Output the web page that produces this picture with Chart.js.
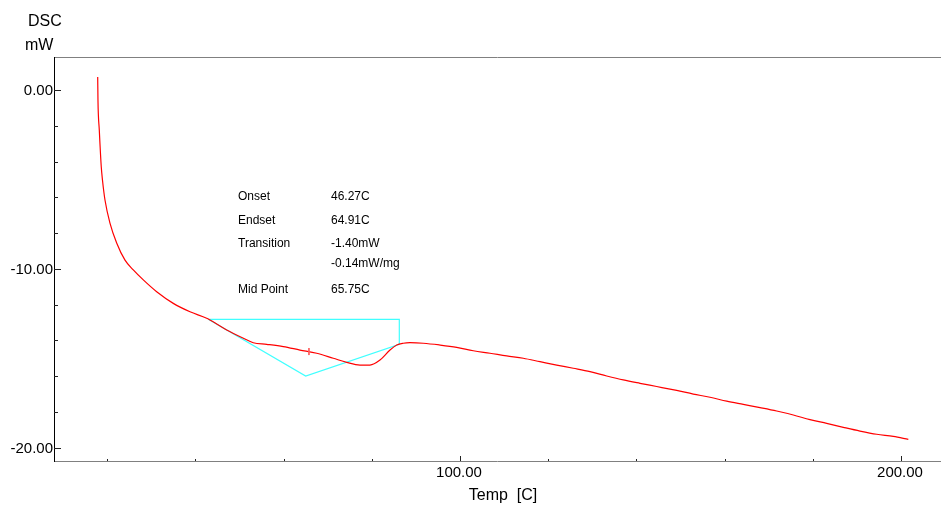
<!DOCTYPE html>
<html>
<head>
<meta charset="utf-8">
<script src="https://cdn.jsdelivr.net/npm/chart.js@4/dist/chart.umd.min.js"></script>
<style>
  html, body { margin: 0; padding: 0; background: #fff; }
  #wrap { width: 941px; height: 506px; }
</style>
</head>
<body>
<div id="wrap"><canvas id="dsc" width="941" height="506"></canvas></div>
<script>
// DSC curve
const tempC = [17.85, 17.91, 18.21, 18.66, 18.93, 19.50, 20.63, 22.15, 24.04, 25.92, 28.19, 31.22, 34.99, 38.78, 42.56, 43.31, 47.10, 50.86, 53.13, 56.17, 59.93, 63.72, 67.51, 71.27, 74.31, 77.32, 79.59, 81.86, 84.13, 85.65, 87.14, 88.66, 91.68, 95.46, 99.25, 103.02, 106.80, 110.59, 114.35, 118.14, 121.93, 125.69, 129.48, 133.27, 137.03, 140.82, 144.60, 149.14, 152.90, 156.69, 160.48, 164.24, 168.03, 171.81, 175.58, 179.37, 183.15, 186.92, 190.70, 194.49, 198.25, 201.66];
const dscMW = [0.73, -0.56, -2.24, -4.31, -5.03, -6.15, -7.44, -8.55, -9.51, -10.06, -10.62, -11.28, -11.93, -12.40, -12.76, -12.86, -13.42, -13.88, -14.13, -14.22, -14.35, -14.54, -14.72, -15.00, -15.23, -15.38, -15.38, -15.10, -14.54, -14.26, -14.16, -14.13, -14.16, -14.26, -14.39, -14.58, -14.72, -14.87, -15.00, -15.19, -15.38, -15.56, -15.75, -15.99, -16.21, -16.40, -16.58, -16.80, -17.00, -17.18, -17.40, -17.58, -17.76, -17.95, -18.17, -18.43, -18.64, -18.86, -19.07, -19.25, -19.37, -19.53];

// analysis construction (cyan)
const constructX = [42.93, 65.01, 86.24, 86.24, 42.93];
const constructY = [-12.82, -15.99, -14.22, -12.82, -12.82];
const midTickX = [65.75, 65.75];
const midTickY = [-14.43, -14.82];

// axes
const xMajorTicks = [100, 200];
const xMinorTicks = [20, 40, 60, 80, 120, 140, 160, 180];
const yMajorTicks = [0, -10, -20];
const yMinorTicks = [-2, -4, -6, -8, -12, -14, -16, -18];

// analysis results text
const resultNames = ["Onset", "Endset", "Transition", "", "Mid Point"];
const resultValues = ["46.27C", "64.91C", "-1.40mW", "-0.14mW/mg", "65.75C"];

const FONT = '"Liberation Sans", Arial, sans-serif';

function toPoints(xs, ys) {
  return xs.map((x, i) => ({ x, y: ys[i] }));
}

const framePlugin = {
  id: "dscFrame",
  afterDraw(chart) {
    const { ctx, chartArea: a } = chart;
    const xs = chart.scales.x;
    const ys = chart.scales.y;
    ctx.save();

    // frame
    ctx.lineWidth = 1;
    ctx.strokeStyle = "#808080";
    ctx.beginPath();
    ctx.moveTo(a.left, a.top + 0.5);
    ctx.lineTo(a.right, a.top + 0.5);
    ctx.moveTo(a.left, a.bottom + 0.5);
    ctx.lineTo(a.right, a.bottom + 0.5);
    ctx.stroke();
    ctx.strokeStyle = "#000";
    ctx.beginPath();
    ctx.moveTo(a.left + 0.5, a.top);
    ctx.lineTo(a.left + 0.5, a.bottom + 1);
    ctx.stroke();

    // ticks (inside)
    ctx.strokeStyle = "#222";
    ctx.beginPath();
    yMajorTicks.forEach((v) => {
      const p = Math.round(ys.getPixelForValue(v)) + 0.5;
      ctx.moveTo(a.left, p); ctx.lineTo(a.left + 7, p);
    });
    yMinorTicks.forEach((v) => {
      const p = Math.round(ys.getPixelForValue(v)) + 0.5;
      ctx.moveTo(a.left, p); ctx.lineTo(a.left + 4, p);
    });
    xMajorTicks.forEach((v) => {
      const p = Math.round(xs.getPixelForValue(v)) + 0.5;
      ctx.moveTo(p, a.bottom); ctx.lineTo(p, a.bottom - 5);
    });
    xMinorTicks.forEach((v) => {
      const p = Math.round(xs.getPixelForValue(v)) + 0.5;
      ctx.moveTo(p, a.bottom); ctx.lineTo(p, a.bottom - 2);
    });
    ctx.stroke();

    // tick labels
    ctx.fillStyle = "#000";
    ctx.font = "15px " + FONT;
    ctx.textAlign = "right";
    ctx.textBaseline = "middle";
    yMajorTicks.forEach((v) => {
      ctx.fillText(v.toFixed(2), a.left - 1, ys.getPixelForValue(v) + 1);
    });
    ctx.textAlign = "center";
    xMajorTicks.forEach((v) => {
      ctx.fillText(v.toFixed(2), xs.getPixelForValue(v) - 1, a.bottom + 12);
    });

    // axis titles
    ctx.font = "16px " + FONT;
    ctx.fillText("Temp  [C]", 503, 496);
    ctx.textAlign = "left";
    ctx.fillText("DSC", 28, 22);
    ctx.fillText("mW", 25, 46);

    // analysis results
    ctx.font = "12px " + FONT;
    const rowY = [196.5, 220.3, 244, 264, 289.7];
    resultNames.forEach((name, i) => {
      ctx.fillText(name, 238, rowY[i]);
      ctx.fillText(resultValues[i], 331, rowY[i]);
    });

    ctx.restore();
  },
};

new Chart(document.getElementById("dsc"), {
  type: "scatter",
  data: {
    datasets: [
      {
        label: "DSC",
        data: toPoints(tempC, dscMW),
        showLine: true,
        borderColor: "#ff0000",
        borderWidth: 1.2,
        pointRadius: 0,
        cubicInterpolationMode: "monotone",
        order: 1,
      },
      {
        label: "construction",
        data: toPoints(constructX, constructY),
        showLine: true,
        borderColor: "#40ffff",
        borderWidth: 1.2,
        pointRadius: 0,
        tension: 0,
        order: 2,
      },
      {
        label: "mid point",
        data: toPoints(midTickX, midTickY),
        showLine: true,
        borderColor: "#ff6060",
        borderWidth: 1,
        pointRadius: 0,
        order: 0,
      },
    ],
  },
  options: {
    responsive: false,
    animation: false,
    layout: { padding: { left: 54, top: 57, right: 0, bottom: 45 } },
    plugins: { legend: { display: false }, tooltip: { enabled: false } },
    scales: {
      x: { type: "linear", display: false, min: 7.94, max: 209.07 },
      y: { type: "linear", display: false, min: -20.744, max: 1.845 },
    },
  },
  plugins: [framePlugin],
});
</script>
</body>
</html>
